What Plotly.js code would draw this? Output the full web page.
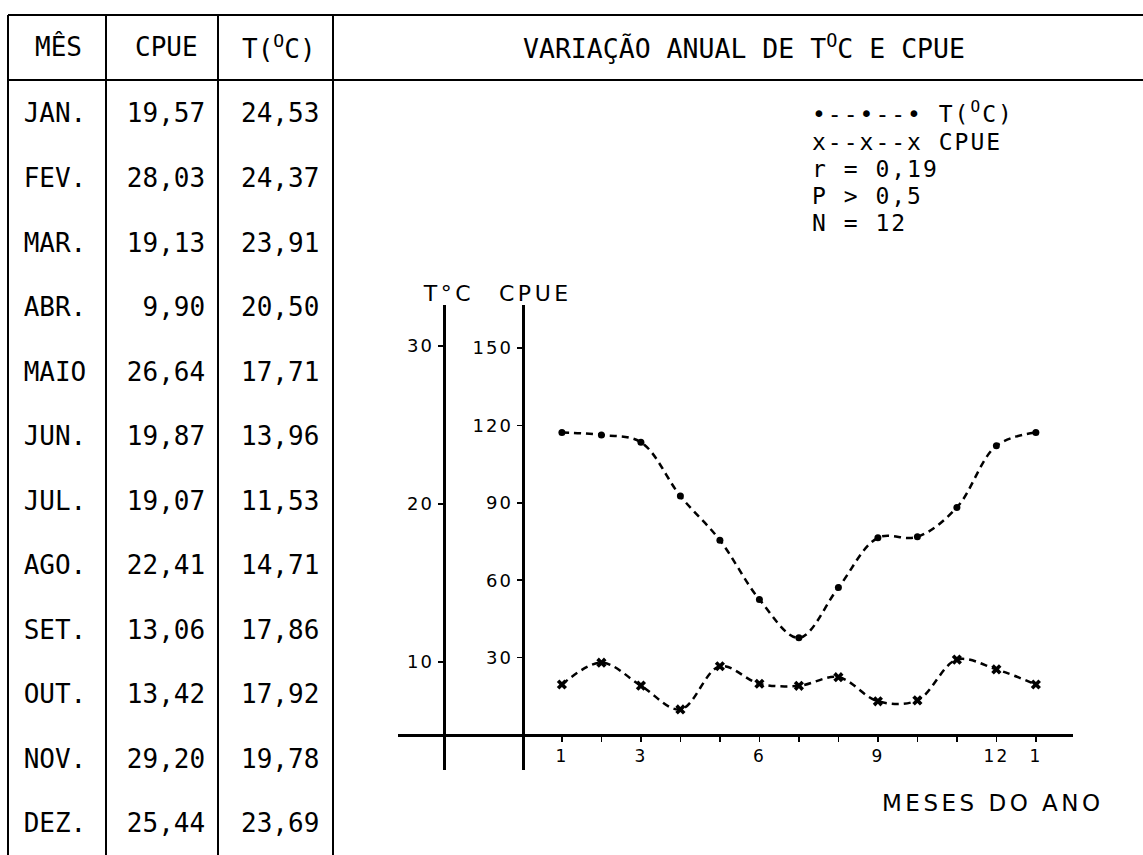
<!DOCTYPE html>
<html>
<head>
<meta charset="utf-8">
<script src="https://cdn.plot.ly/plotly-3.0.1.min.js"></script>
<style>
  html, body { margin: 0; padding: 0; background: #fff; }
  #chart { width: 1143px; height: 855px; }
  /* wide hand-lettering look for the graph labels */
  .xtick text, .ytick text, .y2tick text { letter-spacing: 2px; }
  g.annotation[data-index="9"] text,
  g.annotation[data-index="10"] text,
  g.annotation[data-index="11"] text { letter-spacing: 3.5px; }
  /* typewriter pitch for the key lines */
  g.annotation[data-index="4"] text,
  g.annotation[data-index="5"] text,
  g.annotation[data-index="6"] text,
  g.annotation[data-index="7"] text,
  g.annotation[data-index="8"] text { letter-spacing: 2px; }
</style>
</head>
<body>
<div id="chart"></div>
<script>
// Monthly catch per unit effort (CPUE) and water temperature
const months = ['JAN.', 'FEV.', 'MAR.', 'ABR.', 'MAIO', 'JUN.', 'JUL.', 'AGO.', 'SET.', 'OUT.', 'NOV.', 'DEZ.'];
const cpue = [19.57, 28.03, 19.13, 9.90, 26.64, 19.87, 19.07, 22.41, 13.06, 13.42, 29.20, 25.44];
const tempC = [24.53, 24.37, 23.91, 20.50, 17.71, 13.96, 11.53, 14.71, 17.86, 17.92, 19.78, 23.69];

// month axis: 1..12 plus January again closing the year
const monthNumbers = [1, 2, 3, 4, 5, 6, 7, 8, 9, 10, 11, 12, 13];
const monthTickVals = [1, 3, 6, 9, 12, 13];
const monthTickText = ['1', '3', '6', '9', '12', '1'];
const cpueTicks = [30, 60, 90, 120, 150];
const tempTicks = [10, 20, 30];

const statLines = ['r = 0,19', 'P > 0,5', 'N = 12'];

// ---------------------------------------------------------------
const W = 1143, H = 855;
const px = x => x / W;          // pixel -> paper x
const py = y => 1 - y / H;      // pixel -> paper y

const TYPE = 'DejaVu Sans Mono, Liberation Mono, monospace';
const LETTER = 'DejaVu Sans, Verdana, sans-serif';
const fmt = v => v.toFixed(2).replace('.', ',');

// series closed with the January value at month 13
const cpueYear = cpue.concat([cpue[0]]);
const tempYear = tempC.concat([tempC[0]]);

const lineStyle = { color: '#000', width: 2.5, dash: '7px,5px', shape: 'spline', smoothing: 1 };

const traces = [
  {
    type: 'scatter', mode: 'lines+markers', name: 'T(°C)',
    x: monthNumbers, y: tempYear, xaxis: 'x', yaxis: 'y2',
    line: lineStyle,
    marker: { symbol: 'circle', size: 7, color: '#000' },
    cliponaxis: false, showlegend: false
  },
  {
    type: 'scatter', mode: 'lines+markers', name: 'CPUE',
    x: monthNumbers, y: cpueYear, xaxis: 'x', yaxis: 'y',
    line: lineStyle,
    marker: { symbol: 'x', size: 9, color: '#000' },
    cliponaxis: false, showlegend: false
  },
  // table columns (row index on y3)
  {
    type: 'scatter', mode: 'text', xaxis: 'x3', yaxis: 'y3',
    x: months.map(() => 0.165), y: months.map((m, i) => i),
    text: months, textposition: 'middle center',
    textfont: { family: TYPE, size: 26, color: '#000' },
    cliponaxis: false, showlegend: false, hoverinfo: 'skip'
  },
  {
    type: 'scatter', mode: 'text', xaxis: 'x3', yaxis: 'y3',
    x: cpue.map(() => 0.616), y: cpue.map((v, i) => i),
    text: cpue.map(fmt), textposition: 'middle left',
    textfont: { family: TYPE, size: 26, color: '#000' },
    cliponaxis: false, showlegend: false, hoverinfo: 'skip'
  },
  {
    type: 'scatter', mode: 'text', xaxis: 'x3', yaxis: 'y3',
    x: tempC.map(() => 0.959), y: tempC.map((v, i) => i),
    text: tempC.map(fmt), textposition: 'middle left',
    textfont: { family: TYPE, size: 26, color: '#000' },
    cliponaxis: false, showlegend: false, hoverinfo: 'skip'
  }
];

// table grid
const gridLine = { color: '#000', width: 2 };
const shapes = [
  { type: 'line', xref: 'paper', yref: 'paper', x0: px(8), x1: 1, y0: py(15), y1: py(15), line: gridLine },
  { type: 'line', xref: 'paper', yref: 'paper', x0: px(8), x1: 1, y0: py(80), y1: py(80), line: gridLine }
];
[8, 106, 218, 333].forEach(x => shapes.push({
  type: 'line', xref: 'paper', yref: 'paper',
  x0: px(x), x1: px(x), y0: py(15), y1: 0, line: gridLine
}));

const typeFont = { family: TYPE, size: 26, color: '#000' };
const keyFont = { family: TYPE, size: 23, color: '#000' };
const ann = (text, x, y, xanchor, font) => ({
  text, x: px(x), y: py(y), xref: 'paper', yref: 'paper',
  xanchor, align: xanchor === 'left' ? 'left' : 'center',
  yanchor: 'middle', showarrow: false, font
});

const annotations = [
  // 0-2 table header
  ann('MÊS', 58, 47, 'center', typeFont),
  ann('CPUE', 166, 47, 'center', typeFont),
  ann('T(<sup>O</sup>C)', 279, 47, 'center', typeFont),
  // 3 chart heading
  ann('VARIAÇÃO ANUAL DE T<sup>O</sup>C E CPUE', 744, 47, 'center', { family: TYPE, size: 26.5, color: '#000' }),
  // 4-8 key and statistics
  ann('•--•--• T(<sup>O</sup>C)', 810, 112, 'left', keyFont),
  ann('x--x--x CPUE', 810, 142, 'left', keyFont),
  ann(statLines[0], 810, 169, 'left', keyFont),
  ann(statLines[1], 810, 196, 'left', keyFont),
  ann(statLines[2], 810, 223, 'left', keyFont),
  // 9-11 lettered axis captions
  ann('T°C', 448, 294, 'center', { family: LETTER, size: 22, color: '#000' }),
  ann('CPUE', 535, 294, 'center', { family: LETTER, size: 22, color: '#000' }),
  ann('MESES DO ANO', 880, 803, 'left', { family: LETTER, size: 23, color: '#000' })
];

const tickFont = { family: LETTER, size: 18, color: '#000' };
const tickStyle = { ticks: 'outside', ticklen: 5, tickwidth: 1.5, tickcolor: '#000' };

const layout = {
  width: W, height: H,
  margin: { l: 0, r: 0, t: 0, b: 0, pad: 0 },
  paper_bgcolor: '#fff', plot_bgcolor: 'rgba(0,0,0,0)',
  showlegend: false, hovermode: false,
  xaxis: Object.assign({
    domain: [px(398), px(1073)], range: [-3.15, 13.94],
    anchor: 'free', position: py(735),
    showline: true, linecolor: '#000', linewidth: 3,
    tickmode: 'array', tickvals: monthTickVals, ticktext: monthTickText,
    minor: Object.assign({ tickmode: 'array', tickvals: monthNumbers, showgrid: false }, tickStyle),
    tickfont: { family: LETTER, size: 17, color: '#000' },
    showgrid: false, zeroline: false, automargin: false, fixedrange: true
  }, tickStyle),
  yaxis: Object.assign({
    domain: [py(770), py(305)], range: [-13.57, 166.67],
    anchor: 'free', position: px(522.5), side: 'left',
    showline: true, linecolor: '#000', linewidth: 3,
    tickmode: 'array', tickvals: cpueTicks, tickfont: tickFont,
    showgrid: false, zeroline: false, automargin: false, fixedrange: true
  }, tickStyle),
  yaxis2: Object.assign({
    overlaying: 'y', domain: [py(770), py(305)], range: [3.165, 32.595],
    anchor: 'free', position: px(443.5), side: 'left',
    showline: true, linecolor: '#000', linewidth: 3,
    tickmode: 'array', tickvals: tempTicks, tickfont: tickFont,
    showgrid: false, zeroline: false, automargin: false, fixedrange: true
  }, tickStyle),
  xaxis3: {
    domain: [0, px(333)], range: [0, 1], anchor: 'y3',
    visible: false, fixedrange: true
  },
  yaxis3: {
    domain: [0, py(80)], range: [11.457, -0.558], anchor: 'x3',
    visible: false, fixedrange: true
  },
  shapes, annotations
};

Plotly.newPlot('chart', traces, layout, { staticPlot: true, displayModeBar: false });
</script>
</body>
</html>
